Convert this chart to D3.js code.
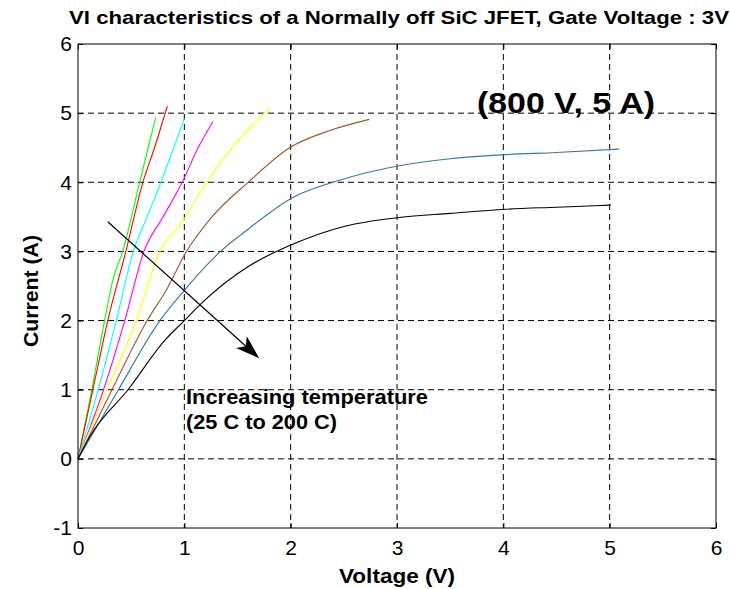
<!DOCTYPE html>
<html>
<head>
<meta charset="utf-8">
<script src="https://cdn.jsdelivr.net/npm/d3@7"></script>
<style>
  body { margin: 0; background: #fff; }
  text { font-family: "Liberation Sans", Arial, sans-serif; }
</style>
</head>
<body>
<div id="chart"></div>
<script>
'use strict';

// tick values
const xTicks = [0, 1, 2, 3, 4, 5, 6];
const yTicks = [-1, 0, 1, 2, 3, 4, 5, 6];

// one curve per temperature (V, A)
const curveGreen = [[0, 0], [0.13, 1], [0.25, 2], [0.33, 2.6], [0.42, 3], [0.58, 4], [0.66, 4.5], [0.73, 4.93]];
const curveRed = [[0, 0], [0.14, 1], [0.28, 2], [0.45, 3], [0.61, 4], [0.72, 4.5], [0.82, 5], [0.84, 5.1]];
const curveCyan = [[0, 0], [0.19, 1], [0.36, 2], [0.52, 3], [0.65, 3.5], [0.78, 4], [0.9, 4.5], [1.0, 4.92]];
const curveMagenta = [[0, 0], [0.24, 1], [0.44, 2], [0.62, 3], [0.8, 3.5], [0.98, 4], [1.13, 4.5], [1.27, 4.88]];
const curveYellow = [[0, 0], [0.27, 1], [0.55, 2], [0.77, 3], [0.96, 3.38], [1.21, 4], [1.45, 4.5], [1.81, 5.09]];
const curveBrown = [[0, 0], [0.32, 1], [0.65, 2], [0.83, 2.44], [1.02, 3], [1.26, 3.5], [1.6, 4], [1.99, 4.5], [2.37, 4.75], [2.74, 4.91]];
const curveBlue = [[0, 0], [0.38, 1], [0.77, 2], [0.99, 2.42], [1.34, 3.0], [1.59, 3.31], [2.02, 3.78], [2.46, 4.03], [3.02, 4.24], [3.5, 4.34], [4.02, 4.40], [4.5, 4.43], [5.09, 4.48]];
const curveBlack = [[0, 0], [0.11, 0.32], [0.47, 1], [0.82, 1.72], [1.0, 2.0], [1.16, 2.25], [1.62, 2.8], [2.03, 3.11], [2.5, 3.36], [3.02, 3.49], [3.5, 3.55], [4.02, 3.61], [4.5, 3.64], [5.01, 3.67]];

const curves = [curveGreen, curveRed, curveCyan, curveMagenta, curveYellow, curveBrown, curveBlue, curveBlack];
const curveColors = ["#00ff00", "#ff0000", "#00ffff", "#ff00ff", "#ffff00", "#a5522a", "#2f77b4", "#000000"];

// arrow start / end in data units
const arrowStart = [0.28, 3.43];
const arrowEnd = [1.69, 1.475];

const width = 730;
const height = 589;
const margin = { top: 44, left: 78, right: 14, bottom: 61 };
const plotW = width - margin.left - margin.right;
const plotH = height - margin.top - margin.bottom;

const svg = d3.select("#chart").append("svg")
  .attr("width", width)
  .attr("height", height);

const x = d3.scaleLinear().domain([0, 6]).range([0, plotW]);
const y = d3.scaleLinear().domain([-1, 6]).range([plotH, 0]);

const chart = svg.append("g")
  .attr("transform", `translate(${margin.left}, ${margin.top})`);

// grid
chart.append("g")
  .selectAll("line")
  .data(xTicks.slice(1, -1))
  .enter().append("line")
  .attr("x1", d => x(d)).attr("x2", d => x(d))
  .attr("y1", 0).attr("y2", plotH)
  .attr("stroke", "#000")
  .attr("stroke-width", 1)
  .attr("stroke-dasharray", "6,4");

chart.append("g")
  .selectAll("line")
  .data(yTicks.slice(1, -1))
  .enter().append("line")
  .attr("x1", 0).attr("x2", plotW)
  .attr("y1", d => y(d)).attr("y2", d => y(d))
  .attr("stroke", "#000")
  .attr("stroke-width", 1)
  .attr("stroke-dasharray", "6,4");

// curves
const line = d3.line()
  .curve(d3.curveMonotoneX)
  .x(d => x(d[0]))
  .y(d => y(d[1]));

chart.selectAll(".curve")
  .data(curves)
  .enter().append("path")
  .attr("class", "curve")
  .attr("d", line)
  .attr("fill", "none")
  .attr("stroke", (d, i) => curveColors[i])
  .attr("stroke-width", 1.1);

// axes with inward ticks
const tickLen = 5;
const fmt = d => String(d);
chart.append("g")
  .attr("transform", `translate(0, ${plotH})`)
  .call(d3.axisBottom(x).tickValues(xTicks).tickFormat(fmt).tickSizeInner(-tickLen).tickSizeOuter(0).tickPadding(12))
  .call(g => g.select(".domain").remove());

chart.append("g")
  .call(d3.axisTop(x).tickValues(xTicks).tickSizeInner(-tickLen).tickSizeOuter(0).tickFormat(""))
  .call(g => g.select(".domain").remove());

chart.append("g")
  .call(d3.axisLeft(y).tickValues(yTicks).tickFormat(fmt).tickSizeInner(-tickLen).tickSizeOuter(0).tickPadding(6))
  .call(g => g.select(".domain").remove());

chart.append("g")
  .attr("transform", `translate(${plotW}, 0)`)
  .call(d3.axisRight(y).tickValues(yTicks).tickSizeInner(-tickLen).tickSizeOuter(0).tickFormat(""))
  .call(g => g.select(".domain").remove());

chart.selectAll(".tick text")
  .attr("font-family", "'Liberation Sans', Arial, sans-serif")
  .attr("font-size", 21)
  .attr("fill", "#000");

chart.selectAll(".tick line").attr("stroke", "#000");

chart.append("rect")
  .attr("width", plotW)
  .attr("height", plotH)
  .attr("fill", "none")
  .attr("stroke", "#000")
  .attr("stroke-width", 1);

// arrow
svg.append("defs").append("marker")
  .attr("id", "head")
  .attr("viewBox", "0 0 24 16")
  .attr("refX", 22)
  .attr("refY", 8)
  .attr("markerWidth", 24)
  .attr("markerHeight", 16)
  .attr("markerUnits", "userSpaceOnUse")
  .attr("orient", "auto")
  .append("path")
  .attr("d", "M0,0 L24,8 L0,16 L6,8 Z")
  .attr("fill", "#000");

chart.append("line")
  .attr("x1", x(arrowStart[0])).attr("y1", y(arrowStart[1]))
  .attr("x2", x(arrowEnd[0])).attr("y2", y(arrowEnd[1]))
  .attr("stroke", "#000")
  .attr("stroke-width", 1.2)
  .attr("marker-end", "url(#head)");

// annotations
svg.append("text")
  .attr("x", 186).attr("y", 404)
  .attr("font-size", 20).attr("font-weight", "bold")
  .attr("textLength", 242).attr("lengthAdjust", "spacingAndGlyphs")
  .text("Increasing temperature");

svg.append("text")
  .attr("x", 186).attr("y", 429)
  .attr("font-size", 20).attr("font-weight", "bold")
  .attr("textLength", 151).attr("lengthAdjust", "spacingAndGlyphs")
  .text("(25 C to 200 C)");

svg.append("text")
  .attr("x", 477).attr("y", 113)
  .attr("font-size", 29).attr("font-weight", "bold")
  .attr("textLength", 178).attr("lengthAdjust", "spacingAndGlyphs")
  .text("(800 V, 5 A)");

// titles
svg.append("text")
  .attr("x", 399).attr("y", 24)
  .attr("text-anchor", "middle")
  .attr("font-size", 19).attr("font-weight", "bold")
  .attr("textLength", 660).attr("lengthAdjust", "spacingAndGlyphs")
  .text("VI characteristics of a Normally off SiC JFET, Gate Voltage : 3V");

svg.append("text")
  .attr("x", margin.left + plotW / 2).attr("y", 583)
  .attr("text-anchor", "middle")
  .attr("font-size", 21).attr("font-weight", "bold")
  .attr("textLength", 116).attr("lengthAdjust", "spacingAndGlyphs")
  .text("Voltage (V)");

svg.append("text")
  .attr("transform", "translate(38, 291) rotate(-90)")
  .attr("text-anchor", "middle")
  .attr("font-size", 21).attr("font-weight", "bold")
  .attr("textLength", 112).attr("lengthAdjust", "spacingAndGlyphs")
  .text("Current (A)");
</script>
</body>
</html>
